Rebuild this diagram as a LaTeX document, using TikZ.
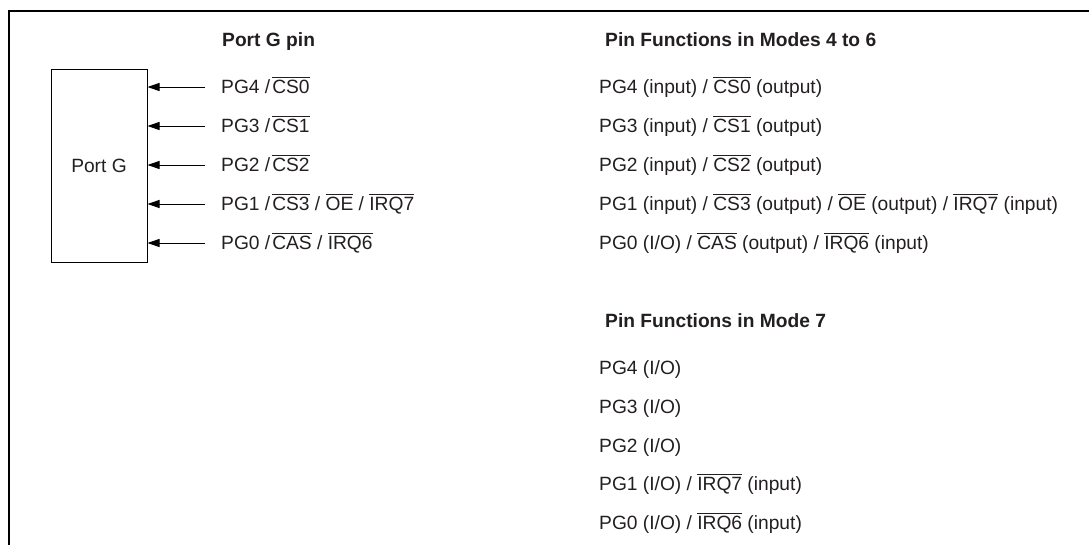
\documentclass[tikz,border=0pt]{standalone}
\usepackage{fontspec}
\setmainfont{Liberation Sans}
\usetikzlibrary{arrows.meta}
\definecolor{inkgray}{RGB}{35, 31, 32}
\newcommand{\ovl}[1]{\leavevmode\vbox{\hrule height 0.8pt\kern 2.2pt\hbox{#1}}}

\begin{document}
\begin{tikzpicture}[x=1pt, y=-1pt, font=\fontsize{19.2}{23}\selectfont, text=inkgray,
  pintext/.style={anchor=west, inner sep=0pt, text height=15.6pt, text depth=2pt},
  headtext/.style={pintext, font=\fontsize{19.2}{23}\selectfont\bfseries},
  feed/.style={-{Triangle[length=12pt, width=8pt]}, line width=1pt}]
\useasboundingbox (0,0) rectangle (1089,544);
% open frame, only left and top edges are seen
\draw[line width=2pt] (9,560) -- (9,11) -- (1100,11);

% port block and its pins
\node[draw, line width=1pt, minimum width=96pt, minimum height=193pt, inner sep=0pt] (portg) at (99,165.5) {Port G};
\node[headtext] (pinhead) at (222,40) {Port G pin};
\node[pintext] (pg4) at (221,87) {PG4 /\kern2pt\ovl{CS0}};
\node[pintext] (pg3) at (221,126) {PG3 /\kern2pt\ovl{CS1}};
\node[pintext] (pg2) at (221,165) {PG2 /\kern2pt\ovl{CS2}};
\node[pintext] (pg1) at (221,204) {PG1 /\kern2pt\ovl{CS3} / \ovl{OE} / \ovl{IRQ7}};
\node[pintext] (pg0) at (221,243) {PG0 /\kern2pt\ovl{CAS} / \ovl{IRQ6}};
\draw[feed] ([xshift=-16pt]pg4.west) -- (portg.east |- pg4.west);
\draw[feed] ([xshift=-16pt]pg3.west) -- (portg.east |- pg3.west);
\draw[feed] ([xshift=-16pt]pg2.west) -- (portg.east |- pg2.west);
\draw[feed] ([xshift=-16pt]pg1.west) -- (portg.east |- pg1.west);
\draw[feed] ([xshift=-16pt]pg0.west) -- (portg.east |- pg0.west);

% modes 4 to 6
\node[headtext] (modeshead) at (605,40) {Pin Functions in Modes 4 to 6};
\node[pintext] (ma4) at (599,87) {PG4 (input) / \ovl{CS0} (output)};
\node[pintext] (ma3) at (599,126) {PG3 (input) / \ovl{CS1} (output)};
\node[pintext] (ma2) at (599,165) {PG2 (input) / \ovl{CS2} (output)};
\node[pintext] (ma1) at (599,204) {PG1 (input) / \ovl{CS3} (output) / \ovl{OE} (output) / \ovl{IRQ7} (input)};
\node[pintext] (ma0) at (599,243) {PG0 (I/O) / \ovl{CAS} (output) / \ovl{IRQ6} (input)};

% mode 7
\node[headtext] (modehead) at (605,321) {Pin Functions in Mode 7};
\node[pintext] (mb4) at (599,368) {PG4 (I/O)};
\node[pintext] (mb3) at (599,407) {PG3 (I/O)};
\node[pintext] (mb2) at (599,446) {PG2 (I/O)};
\node[pintext] (mb1) at (599,484) {PG1 (I/O) / \ovl{IRQ7} (input)};
\node[pintext] (mb0) at (599,523) {PG0 (I/O) / \ovl{IRQ6} (input)};
\end{tikzpicture}
\end{document}
